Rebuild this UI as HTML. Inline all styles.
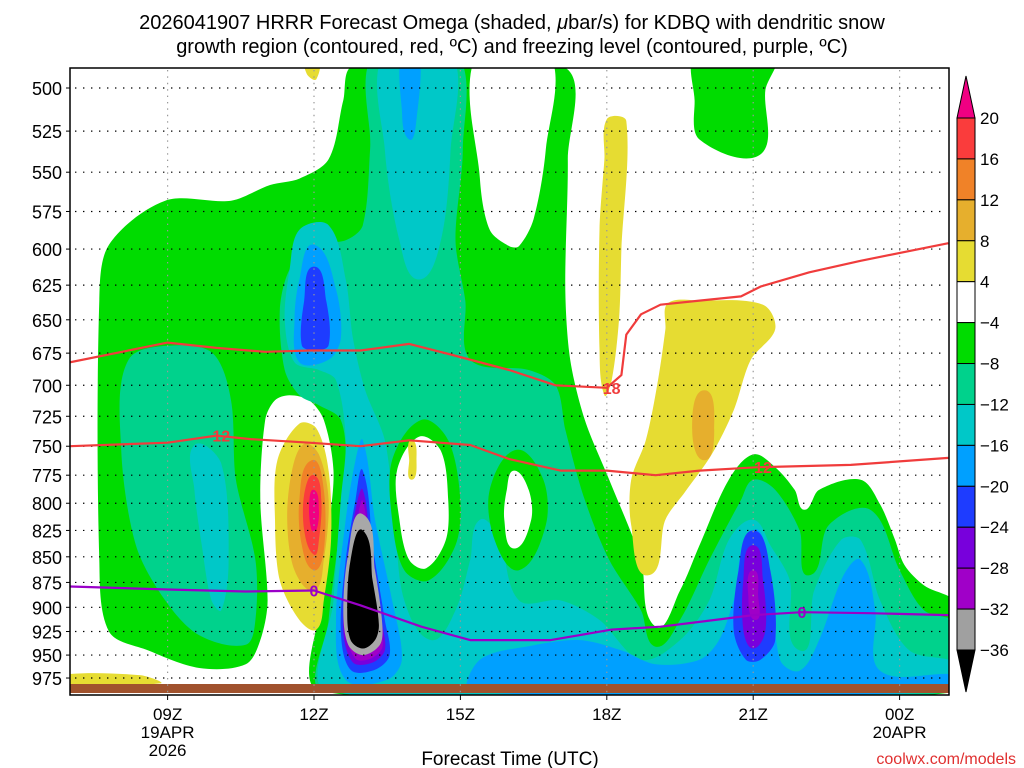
<!DOCTYPE html>
<html><head><meta charset="utf-8"><style>
html,body{margin:0;padding:0;background:#fff;}
svg{display:block;font-family:"Liberation Sans","DejaVu Sans",sans-serif;}
</style></head><body>
<svg id="chart" width="1024" height="768" viewBox="0 0 1024 768" xmlns="http://www.w3.org/2000/svg">
<rect x="0" y="0" width="1024" height="768" fill="#fff"/>
<g font-size="20" text-anchor="middle" fill="#000">
<text x="512" y="29">2026041907 HRRR Forecast Omega (shaded, <tspan font-style="italic">μ</tspan>bar/s) for KDBQ with dendritic snow</text>
<text x="512" y="53">growth region (contoured, red, ºC) and freezing level (contoured, purple, ºC)</text>
</g>
<defs><clipPath id="plotclip"><rect x="70" y="68" width="879" height="627"/></clipPath></defs>
<g id="fills" clip-path="url(#plotclip)"></g>
<g id="grid"></g>
<g id="lines" clip-path="url(#plotclip)"></g>
<rect x="70" y="68" width="879" height="627" fill="none" stroke="#000" stroke-width="1.5"/>
<g id="yaxis"></g>
<g id="xaxis"></g>
<text x="510" y="765" font-size="19" text-anchor="middle">Forecast Time (UTC)</text>
<text x="1016" y="764" font-size="16" text-anchor="end" fill="#e03030">coolwx.com/models</text>
<g id="cbar"></g>
</svg>
<script>
// ---- data (hour since 00Z 19 Apr, pressure hPa) ----
const pressureTicks=[500,525,550,575,600,625,650,675,700,725,750,775,800,825,850,875,900,925,950,975];
const hourTicks=[9,12,15,18,21,24];
const hourLabels=["09Z","12Z","15Z","18Z","21Z","00Z"];
const dateLabels={9:["19APR","2026"],24:["20APR",""]};
const cbarLevels=[20,16,12,8,4,-4,-8,-12,-16,-20,-24,-28,-32,-36];
const cbarColors=["#fa3c3c","#f08228","#e6af2d","#e6dc32","#ffffff","#00dc00","#00d28c","#00c8c8","#00a0ff","#1e3cff","#7800dc","#a000c8","#a0a0a0"];

const greenAreas=[
 [[12.8,488],[17.1,488],[17.2,542],[17.15,628],[17.25,680],[17.55,728],[18.05,779],[18.7,853],[19.0,920],[19.5,883],[19.9,839],[20.5,779],[21,757],[21.45,768],[21.85,788],[22.05,806],[22.35,788],[23.2,779],[23.6,801],[23.9,833],[24.1,858],[24.5,878],[25.2,898],[25.2,990],[12.15,990],[12.15,893],[12.3,825],[12.4,771],[12.2,728],[11.9,712],[11.5,708],[11.2,712],[11.0,728],[10.9,797],[11.05,893],[10.9,934],[10.6,960],[9.65,964],[8.6,945],[7.8,925],[7.6,853],[7.6,636],[7.8,597],[8.95,568],[10.3,568],[11.1,558],[11.7,554],[12.3,542],[12.6,507]],
 [[19.85,480],[21.45,480],[21.25,501],[21.15,539],[19.9,530],[19.8,507]]
];
const whiteUpper=[[[15.35,480],[16.8,480],[16.75,536],[16.5,580],[16.2,598],[16.0,598],[15.6,587],[15.4,554]]];
const seafoamAreas=[
 [[8.2,680],[9.25,669],[9.95,676],[10.3,712],[10.4,779],[10.8,853],[10.8,913],[10.6,939],[9.65,929],[8.95,893],[8.35,839],[8.05,753]],
 [[13.25,480],[14.9,480],[15.05,536],[14.9,594],[15.1,636],[15.2,680],[16.4,688],[16.95,700],[17.15,736],[17.55,797],[18.05,853],[18.7,903],[19.0,941],[19.5,913],[20.1,853],[20.75,797],[21,779],[21.45,788],[21.95,825],[22.15,868],[22.55,820],[23.4,806],[24,863],[24.5,903],[25.2,918],[25.2,990],[12.2,990],[12.3,913],[12.5,833],[12.65,771],[12.55,728],[12.1,716],[11.7,708],[11.4,688],[11.3,643],[11.5,614],[12,597],[12.65,594],[13,584],[13.15,536]]
];
const cyanAreas=[
 [[9.55,749],[10.1,765],[10.25,853],[10.1,903],[9.9,893],[9.7,839],[9.55,788]],
 [[13.45,480],[14.8,480],[14.8,536],[14.6,594],[14.15,621],[13.75,594],[13.45,536]],
 [[11.7,587],[12.3,584],[12.65,621],[12.8,664],[13.05,704],[13.45,745],[13.65,815],[13.85,893],[14.4,934],[14.9,903],[15.2,853],[15.4,815],[15.8,834],[16.2,893],[17.05,893],[17.85,913],[18.7,955],[19.5,934],[20.1,893],[20.5,834],[21,815],[21.35,839],[21.75,873],[21.95,945],[22.25,883],[22.8,834],[23.2,834],[23.6,893],[24.2,945],[25.2,960],[25.2,990],[12.3,990],[12.4,893],[12.55,797],[12.65,745],[12.45,696],[12.1,688],[11.6,682],[11.4,650],[11.5,614]]
];
const greenRings=[
 [[14.2,728],[14.75,745],[15.0,797],[14.9,839],[14.35,873],[13.85,863],[13.6,815],[13.6,762]],
 [[16.15,753],[16.7,779],[16.75,820],[16.2,863],[15.7,834],[15.6,788]]
];
const whiteLower=[
 [[14.15,742],[14.6,754],[14.75,797],[14.7,834],[14.3,861],[13.95,853],[13.75,815],[13.7,771]],
 [[16.1,771],[16.4,788],[16.45,815],[16.1,842],[15.9,815],[15.95,788]]
];
const blueAreas=[
 [[13.8,480],[14.15,480],[14.1,518],[13.95,530],[13.8,512]],
 [[12,597],[12.45,628],[12.55,664],[12.3,680],[11.7,682],[11.6,650],[11.7,621]],
 [[13,745],[13.25,815],[13.6,893],[13.8,955],[13.5,977],[12.65,977],[12.45,913],[12.65,815],[12.85,762]],
 [[15.2,990],[15.4,955],[16.45,940],[17.45,934],[18.3,945],[19,960],[19.9,955],[20.3,934],[20.6,893],[21,825],[21.35,868],[21.55,955],[21.95,967],[22.35,934],[22.85,868],[23.2,853],[23.5,903],[23.6,967],[25.2,972],[25.2,990]]
];
const darkBlueAreas=[
 [[12,612],[12.25,636],[12.3,669],[12,673],[11.75,669],[11.8,636]],
 [[13,771],[13.2,839],[13.45,913],[13.55,950],[13.25,966],[12.75,966],[12.55,924],[12.65,853],[12.85,797]],
 [[21,825],[21.35,863],[21.45,934],[21.15,955],[20.85,955],[20.6,924],[20.7,863]]
];
const violetAreas=[
 [[13,788],[13.15,844],[13.4,918],[13.45,945],[13.2,958],[12.8,958],[12.6,924],[12.7,853],[12.85,806]],
 [[21,839],[21.2,873],[21.25,924],[21,943],[20.8,924],[20.8,873]]
];
const purpleAreas=[
 [[13,798],[13.15,849],[13.35,918],[13.4,942],[13.15,954],[12.85,954],[12.65,924],[12.72,858],[12.9,812]],
 [[21,863],[21.1,888],[21.05,913],[20.9,888]]
];
const grayAreas=[[[13,810],[13.25,863],[13.4,918],[13.35,939],[13,950],[12.7,939],[12.6,903],[12.7,848]]];
const blackAreas=[[[13,825],[13.2,873],[13.33,918],[13.25,934],[13,943],[12.75,934],[12.68,903],[12.75,853]]];
const yellowAreas=[
 [[11.7,731],[12.05,735],[12.3,771],[12.35,833],[12.2,893],[12.05,923],[11.7,913],[11.3,873],[11.2,815],[11.25,762]],
 [[18,518],[18.4,519],[18.3,600],[18.25,650],[18.1,696],[17.95,708],[17.85,672],[17.85,587],[17.95,542]],
 [[19.25,638],[19.9,636],[21.2,639],[21.45,657],[20.95,680],[20.6,720],[20.15,757],[19.6,790],[19.2,815],[18.85,868],[18.5,820],[18.5,779],[18.8,745],[19.05,696],[19.2,657]],
 [[14,745],[14.1,762],[14,779],[13.95,762]],
 [[11.8,480],[12.1,480],[12.05,495],[11.85,492]],
 [[6.9,971],[8.45,972],[8.85,981],[6.9,981]]
];
const goldAreas=[
 [[11.8,748],[12.1,757],[12.3,797],[12.2,853],[12.0,883],[11.6,863],[11.45,815],[11.55,771]],
 [[20,704],[20.2,736],[20,762],[19.75,736]]
];
const orangeAreas=[[[11.95,762],[12.2,788],[12.2,844],[12,863],[11.75,839],[11.7,797]]];
const redAreas=[[[12,775],[12.15,797],[12.1,834],[12,848],[11.8,825],[11.8,792]]];
const magentaAreas=[[[12,788],[12.1,806],[12.05,825],[11.95,825],[11.9,802]]];

const isoMinus12H=[7,9,10,10.7,11.9,12.95,13.95,15.2,16,17.05,18,19,19.9,21.1,23,25];
const isoMinus12P=[750,747,741,744,747,750,745,749,761,771,771,775,771,768,766,760];
const isoMinus18H=[7,9,10,11,11.9,12.95,13.95,14.8,16,16.95,18,18.3,18.4,18.7,19.1,19.9,20.75,21.15,22.15,23.2,25];
const isoMinus18P=[682,667,671,674,673,673,668,676,688,700,702,692,661,646,639,636,633,626,616,608,596];
const isoZeroH=[7,9,10.6,12,12.95,14.2,15.2,16.85,18.1,19.1,19.9,21,22,23.4,25];
const isoZeroP=[879,882,884,883,898,920,934,934,923,920,915,908,905,906,908];

// ---- axes ----
const X0=70,XH=48.8,H0=7;
const Y0=88,YK=883.5;
function xs(h){return X0+(h-H0)*XH;}
function ys(p){return Y0+YK*Math.log(p/500);}
const NS="http://www.w3.org/2000/svg";
function mk(tag,attrs,parent){const e=document.createElementNS(NS,tag);for(const k in attrs)e.setAttribute(k,attrs[k]);parent.appendChild(e);return e;}

function unit(a,b){const dx=b[0]-a[0],dy=b[1]-a[1];const L=Math.hypot(dx,dy)||1;return [dx/L,dy/L];}
function smoothPath(pts){
 const P=pts.map(q=>[xs(q[0]),ys(q[1])]);const n=P.length;let d="M"+P[0][0].toFixed(1)+","+P[0][1].toFixed(1);
 for(let i=0;i<n;i++){const p0=P[(i-1+n)%n],p1=P[i],p2=P[(i+1)%n],p3=P[(i+2)%n];
  const L=Math.hypot(p2[0]-p1[0],p2[1]-p1[1])*0.3;
  const u1=unit(p0,p2),u2=unit(p1,p3);
  const c1=[p1[0]+u1[0]*L,p1[1]+u1[1]*L];const c2=[p2[0]-u2[0]*L,p2[1]-u2[1]*L];
  d+=" C"+c1[0].toFixed(1)+","+c1[1].toFixed(1)+" "+c2[0].toFixed(1)+","+c2[1].toFixed(1)+" "+p2[0].toFixed(1)+","+p2[1].toFixed(1);}
 return d+"Z";
}
const fills=document.getElementById('fills');
const layers=[
 [greenAreas,"#00dc00","omega-minus4"],[whiteUpper,"#ffffff","omega-neutral"],[seafoamAreas,"#00d28c","omega-minus8"],
 [cyanAreas,"#00c8c8","omega-minus12"],[greenRings,"#00dc00","omega-minus4-ring"],[whiteLower,"#ffffff","omega-neutral-pocket"],
 [blueAreas,"#00a0ff","omega-minus16"],[darkBlueAreas,"#1e3cff","omega-minus20"],[violetAreas,"#7800dc","omega-minus24"],
 [purpleAreas,"#a000c8","omega-minus28"],[grayAreas,"#a8a8a8","omega-minus32"],[blackAreas,"#000000","omega-minus36"],
 [yellowAreas,"#e6dc32","omega-plus4"],[goldAreas,"#e6af2d","omega-plus8"],[orangeAreas,"#f08228","omega-plus12"],
 [redAreas,"#fa3c3c","omega-plus16"],[magentaAreas,"#f00082","omega-plus20"]];
for(const [areas,col,name] of layers){for(const a of areas){
 const el=mk('path',{d:smoothPath(a),fill:col},fills);
 
 
}}
// ground
const gr=mk('rect',{x:70,y:684,width:879,height:9,fill:"#a0522d"},fills);



// grid + y axis
const grid=document.getElementById('grid'),yax=document.getElementById('yaxis');
for(const p of pressureTicks){const y=ys(p);
 const l=mk('line',{x1:75,x2:947,y1:y,y2:y,stroke:"#000","stroke-width":1.2,"stroke-dasharray":"1.4 6.6"},grid);
 
 
 const t=mk('text',{x:62,y:y+7,"font-size":18,"text-anchor":"end"},yax);t.textContent=p;
 
 
 mk('line',{x1:66,x2:70,y1:y,y2:y,stroke:"#000"},yax);
}
const xax=document.getElementById('xaxis');
hourTicks.forEach((h,i)=>{const x=xs(h);
 const l=mk('line',{x1:x,x2:x,y1:70,y2:693,stroke:"#999","stroke-width":1.2,"stroke-dasharray":"1.4 5"},grid);
 
 
 mk('line',{x1:x,x2:x,y1:695,y2:700,stroke:"#000"},xax);
 const t=mk('text',{x:x,y:720,"font-size":17,"text-anchor":"middle"},xax);t.textContent=hourLabels[i];
 
 
 if(dateLabels[h]){dateLabels[h].forEach((s,j)=>{if(!s)return;
  const d=mk('text',{x:x,y:738+18*j,"font-size":17,"text-anchor":"middle"},xax);d.textContent=s;
  
  });}
});

// contour lines
const lines=document.getElementById('lines');
function drawLine(H,P,col,name){const d=H.map((h,i)=>(i?"L":"M")+xs(h).toFixed(1)+","+ys(P[i]).toFixed(1)).join(" ");
 const e=mk('path',{d:d,fill:"none",stroke:col,"stroke-width":2.2,"stroke-linejoin":"round"},lines);
 
 }
drawLine(isoMinus12H,isoMinus12P,"#f03c3c","isotherm-minus12");
drawLine(isoMinus18H,isoMinus18P,"#f03c3c","isotherm-minus18");
drawLine(isoZeroH,isoZeroP,"#9a00c8","freezing-level-line");
function label(h,p,txt,col,name){const x=xs(h),y=ys(p);
 const t=mk('text',{x:x,y:y+6,"font-size":16,"font-weight":"bold","text-anchor":"middle",fill:col},lines);t.textContent=txt;
 
 }
label(10.1,741,"12","#f03c3c","isotherm-label-12a");
label(21.2,768,"12","#f03c3c","isotherm-label-12b");
label(18.1,702,"18","#f03c3c","isotherm-label-18");
label(12,883,"0","#9a00c8","freezing-label-a");
label(22,905,"0","#9a00c8","freezing-label-b");

// colorbar
const cb=document.getElementById('cbar');const cbY0=118,cbStep=(650-118)/(cbarLevels.length-1),cbX=957,cbW=18;
cbarColors.forEach((c,i)=>{const r=mk('rect',{x:cbX,y:cbY0+i*cbStep,width:cbW,height:cbStep,fill:c,stroke:"#000","stroke-width":1},cb);
 
 });
const ta=mk('polygon',{points:`${cbX},${cbY0} ${cbX+cbW},${cbY0} ${cbX+cbW/2},76`,fill:"#f00082",stroke:"#000"},cb);


const ba=mk('polygon',{points:`${cbX},650 ${cbX+cbW},650 ${cbX+cbW/2},692`,fill:"#000",stroke:"#000"},cb);


cbarLevels.forEach((v,i)=>{const t=mk('text',{x:980,y:cbY0+i*cbStep+6,"font-size":17},cb);
 t.textContent=(v<0?"−":"")+Math.abs(v);
 
 });
</script>
</body></html>
